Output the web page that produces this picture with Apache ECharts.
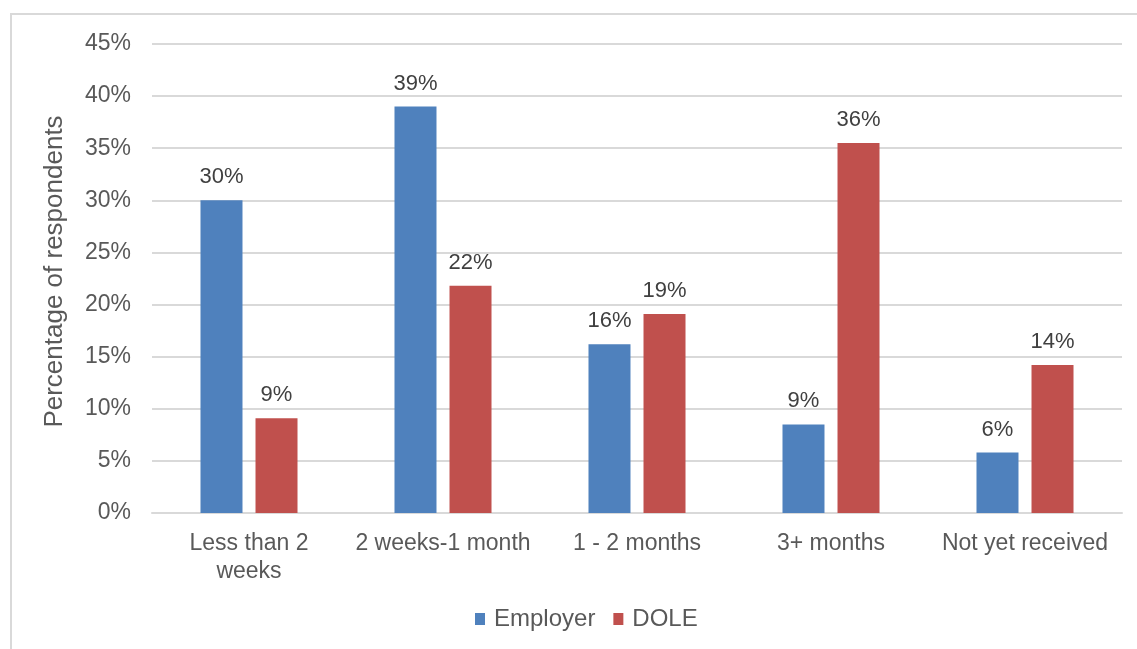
<!DOCTYPE html>
<html>
<head>
<meta charset="utf-8">
<script src="https://cdn.jsdelivr.net/npm/echarts@6/dist/echarts.min.js"></script>
<style>
  html, body { margin: 0; padding: 0; background: #ffffff; }
  #chart { width: 1137px; height: 649px; }
</style>
</head>
<body>
<div id="chart"></div>
<script>
// Time taken to receive payment, by source (percentage of respondents)
const categories = ['Less than 2\nweeks', '2 weeks-1 month', '1 - 2 months', '3+ months', 'Not yet received'];
const employerValues = [30.0, 39.0, 16.2, 8.5, 5.8];
const doleValues = [9.1, 21.8, 19.1, 35.5, 14.2];
const seriesNames = ['Employer', 'DOLE'];
const yAxisTitle = 'Percentage of respondents';

const textColor = '#595959';
const gridColor = '#d9d9d9';
const fontFamily = '"Liberation Sans", Arial, sans-serif';

const chart = echarts.init(document.getElementById('chart'), null, { renderer: 'canvas' });

const labelStyle = {
  show: true,
  position: 'top',
  distance: 12,
  color: '#404040',
  fontSize: 22,
  fontFamily: fontFamily,
  formatter: p => Math.round(p.value) + '%'
};

chart.setOption({
  animation: false,
  backgroundColor: '#ffffff',
  graphic: [{
    type: 'rect',
    shape: { x: 11, y: 14, width: 1200, height: 700 },
    style: { fill: 'none', stroke: gridColor, lineWidth: 2 },
    silent: true,
    z: -1
  }],
  grid: { left: 152, right: 15, top: 44, bottom: 136 },
  legend: {
    data: seriesNames,
    bottom: 13,
    left: 470,
    itemWidth: 10,
    itemHeight: 12,
    itemGap: 18,
    icon: 'rect',
    textStyle: { color: textColor, fontSize: 24, fontFamily: fontFamily, padding: [0, 0, 0, 4] }
  },
  xAxis: {
    type: 'category',
    data: categories,
    axisLine: { show: true, lineStyle: { color: gridColor, width: 2 } },
    axisTick: { show: false },
    axisLabel: { color: textColor, fontSize: 23, fontFamily: fontFamily, margin: 17, lineHeight: 28, interval: 0 }
  },
  yAxis: {
    type: 'value',
    min: 0,
    max: 45,
    interval: 5,
    name: yAxisTitle,
    nameLocation: 'middle',
    nameGap: 84,
    nameTextStyle: { color: textColor, fontSize: 26, fontFamily: fontFamily, padding: [0, 0, 0, 14] },
    axisLine: { show: false },
    axisTick: { show: false },
    axisLabel: { color: textColor, fontSize: 23, fontFamily: fontFamily, margin: 21, formatter: '{value}%' },
    splitLine: { lineStyle: { color: gridColor, width: 2 } }
  },
  series: [
    {
      name: seriesNames[0],
      type: 'bar',
      data: employerValues,
      barWidth: 42,
      barGap: '31%',
      itemStyle: { color: '#4f81bd' },
      label: labelStyle
    },
    {
      name: seriesNames[1],
      type: 'bar',
      data: doleValues,
      barWidth: 42,
      barGap: '31%',
      itemStyle: { color: '#c0504d' },
      label: labelStyle
    }
  ]
});
</script>
</body>
</html>
